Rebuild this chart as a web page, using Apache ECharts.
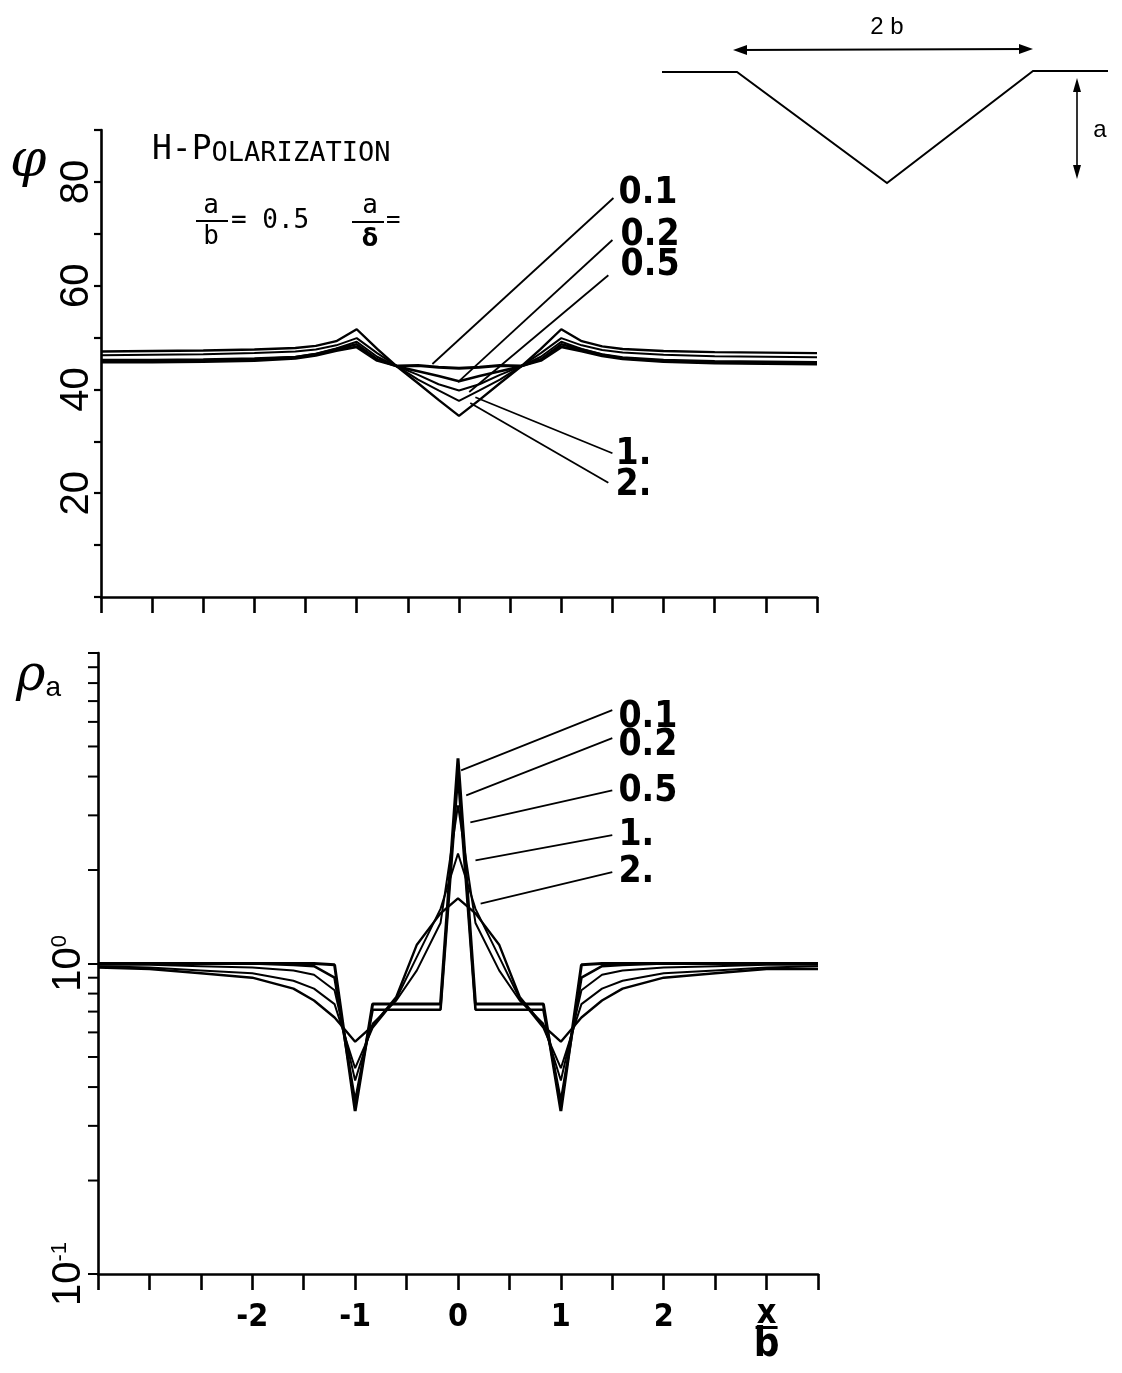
<!DOCTYPE html>
<html><head><meta charset="utf-8">
<script src="https://cdn.jsdelivr.net/npm/echarts@6/dist/echarts.min.js"></script>
<style>html,body{margin:0;padding:0;background:#fff}#c{width:1122px;height:1373px}</style>
</head><body><div id="c"></div><script>
// ---------- data ----------
const xPhi = [-3.5,-3,-2.5,-2,-1.6,-1.4,-1.2,-1,-0.8,-0.6,-0.4,-0.2,0,0.2,0.4,0.6,0.8,1,1.2,1.4,1.6,2,2.5,3,3.5];
const phi01 = [45.3,45.3,45.4,45.6,46.0,46.6,47.5,48.2,45.6,44.5,44.6,44.3,44.1,44.3,44.6,44.5,45.6,48.2,47.4,46.5,45.9,45.4,45.1,45.0,44.9];
const phi02 = [45.5,45.5,45.6,45.8,46.2,46.8,47.8,48.7,45.8,44.4,43.5,42.6,41.6,42.6,43.5,44.4,45.8,48.7,47.7,46.7,46.0,45.5,45.2,45.1,45.0];
const phi05 = [45.7,45.7,45.8,46.0,46.3,46.9,47.9,49.2,46.3,44.4,42.8,41.0,39.8,41.0,42.8,44.4,46.3,49.2,47.8,46.8,46.2,45.7,45.5,45.4,45.3];
const phi1  = [46.6,46.7,46.8,47.0,47.3,47.7,48.5,49.9,47.0,44.4,41.9,39.8,37.8,39.8,41.9,44.4,47.0,49.9,48.5,47.6,47.1,46.7,46.4,46.3,46.2];
const phi2  = [47.3,47.4,47.5,47.7,48.0,48.4,49.3,51.6,47.8,44.3,41.2,38.0,34.9,38.0,41.2,44.3,47.8,51.6,49.3,48.3,47.8,47.4,47.2,47.1,47.0];

const xRho = [-3.5,-3,-2.5,-2,-1.6,-1.4,-1.2,-1,-0.83,-0.6,-0.4,-0.17,0,0.17,0.4,0.6,0.83,1,1.2,1.4,1.6,2,2.5,3,3.5];
const rho01 = [1.00,1.00,1.00,1.00,1.00,1.00,0.99,0.335,0.74,0.74,0.74,0.74,4.58,0.74,0.74,0.74,0.74,0.335,0.99,1.00,1.00,1.00,1.00,1.00,1.00];
const rho02 = [1.00,1.00,1.00,1.00,0.99,0.98,0.90,0.36,0.71,0.71,0.71,0.71,4.04,0.71,0.71,0.71,0.71,0.36,0.90,0.98,0.99,1.00,1.00,1.00,1.00];
const rho05 = [0.99,0.99,0.98,0.97,0.95,0.92,0.82,0.42,0.64,0.76,0.95,1.35,3.23,1.35,0.95,0.76,0.64,0.42,0.82,0.92,0.95,0.97,0.98,0.99,0.99];
const rho1  = [0.98,0.97,0.95,0.93,0.88,0.83,0.74,0.46,0.62,0.77,1.05,1.50,2.26,1.50,1.05,0.77,0.62,0.46,0.74,0.83,0.88,0.93,0.95,0.97,0.98];
const rho2  = [0.97,0.96,0.93,0.90,0.83,0.76,0.67,0.56,0.63,0.78,1.15,1.45,1.62,1.45,1.15,0.78,0.63,0.56,0.67,0.76,0.83,0.90,0.93,0.96,0.96];

const curveNames = ['0.1','0.2','0.5','1.','2.'];
// pointer lines [start, end] in data units
const phiPointers = [[[-0.26,44.9],[1.51,76.9]],[[-0.01,41.4],[1.50,68.8]],[[0.10,39.5],[1.46,62.0]],[[0.16,38.5],[1.50,27.7]],[[0.11,37.4],[1.46,22.0]]];
const phiLabelPos = [[1.56,77.8],[1.58,69.6],[1.58,64.0],[1.53,27.4],[1.53,21.6]];
const rhoPointers = [[[0.03,4.19],[1.50,6.55]],[[0.08,3.48],[1.50,5.32]],[[0.12,2.85],[1.50,3.61]],[[0.17,2.15],[1.50,2.59]],[[0.22,1.56],[1.50,1.97]]];
const rhoLabelPos = [[1.56,6.2],[1.56,5.05],[1.56,3.59],[1.56,2.59],[1.56,1.97]];

const phiTickLabels = [20,40,60,80];
const xTickLabels = [-2,-1,0,1,2];
const rhoMinorTicks = [0.2,0.3,0.4,0.5,0.6,0.7,0.8,0.9,2,3,4,5,6,7,8,9];

// ---------- styling ----------
const BLK = '#000';
const COND = "'DejaVu Sans Condensed','Liberation Sans Narrow','Roboto Condensed','DejaVu Sans',sans-serif";
const MONO = "'DejaVu Sans Mono','Liberation Mono',monospace";
const curveWidths = [3,2.6,2,2,2.4];

function zip(xs, ys){ return xs.map((x,i)=>[x, ys[i]]); }

const series = [];
[phi01,phi02,phi05,phi1,phi2].forEach((ys,i)=>{
  series.push({type:'line', name:'phi '+curveNames[i], xAxisIndex:0, yAxisIndex:0, data:zip(xPhi,ys),
    symbol:'none', lineStyle:{color:BLK,width:curveWidths[i]}, z:3, animation:false});
});
[rho01,rho02,rho05,rho1,rho2].forEach((ys,i)=>{
  series.push({type:'line', name:'rho '+curveNames[i], xAxisIndex:1, yAxisIndex:1, data:zip(xRho,ys),
    symbol:'none', lineStyle:{color:BLK,width:curveWidths[i]}, z:3, animation:false});
});
phiPointers.forEach((p)=>{
  series.push({type:'line', xAxisIndex:0, yAxisIndex:0, data:p, symbol:'none', lineStyle:{color:BLK,width:1.8}, animation:false});
});
rhoPointers.forEach((p)=>{
  series.push({type:'line', xAxisIndex:1, yAxisIndex:1, data:p, symbol:'none', lineStyle:{color:BLK,width:1.8}, animation:false});
});
const labelStyle = {show:true, position:'right', distance:0, formatter:(p)=>p.name, color:BLK, opacity:1,
  fontFamily:COND, fontSize:37, fontWeight:'bold'};
series.push({type:'scatter', xAxisIndex:0, yAxisIndex:0, symbolSize:0, silent:true, animation:false,
  itemStyle:{opacity:1, color:BLK},
  data: phiLabelPos.map((v,i)=>({name:curveNames[i], value:v})), label:labelStyle});
series.push({type:'scatter', xAxisIndex:1, yAxisIndex:1, symbolSize:0, silent:true, animation:false,
  itemStyle:{opacity:1, color:BLK},
  data: rhoLabelPos.map((v,i)=>({name:curveNames[i], value:v})), label:labelStyle});
// minor log ticks on the rho axis
series.push({type:'custom', xAxisIndex:1, yAxisIndex:1, silent:true, animation:false,
  data: rhoMinorTicks.map(v=>[-3.5, v]),
  renderItem:(params, api)=>{
    const p = api.coord([api.value(0), api.value(1)]);
    return {type:'line', shape:{x1:p[0]-10, y1:p[1], x2:p[0], y2:p[1]}, style:{stroke:BLK, lineWidth:2}};
  }});

const axisLineStyle = {show:true, onZero:false, lineStyle:{color:BLK, width:2.6}};
const option = {
  backgroundColor:'#fff',
  animation:false,
  grid:[
    {left:101, top:130, width:716, height:467},
    {left:98, top:653, width:720, height:621}
  ],
  xAxis:[
    {type:'value', gridIndex:0, min:-3.5, max:3.5, interval:0.5, axisLine:axisLineStyle,
     axisTick:{show:true, length:16, lineStyle:{color:BLK,width:2.6}}, axisLabel:{show:false}, splitLine:{show:false}},
    {type:'value', gridIndex:1, min:-3.5, max:3.5, interval:0.5, axisLine:axisLineStyle,
     axisTick:{show:true, length:16, lineStyle:{color:BLK,width:2.6}},
     axisLabel:{show:true, margin:28, color:BLK, fontFamily:COND, fontSize:32, fontWeight:'bold',
       formatter:(v)=> xTickLabels.includes(v) ? String(v) : (v===3 ? '{x|x}\n{bar|}\n{b|b}' : ''),
       rich:{x:{fontFamily:COND,fontSize:34,fontWeight:'bold',lineHeight:24,color:BLK}, bar:{width:22,height:3,backgroundColor:BLK}, b:{fontFamily:COND,fontSize:40,lineHeight:34,color:BLK}}},
     splitLine:{show:false}}
  ],
  yAxis:[
    {type:'value', gridIndex:0, min:0, max:90, interval:10, axisLine:axisLineStyle,
     axisTick:{show:true, length:7, lineStyle:{color:BLK,width:2.2}},
     axisLabel:{show:true, rotate:90, margin:4, color:BLK, fontFamily:"'Liberation Sans',Arial,sans-serif", fontSize:40,
       formatter:(v)=> phiTickLabels.includes(v) ? String(v) : ''},
     splitLine:{show:false}},
    {type:'log', logBase:10, gridIndex:1, min:0.1, max:10, axisLine:axisLineStyle,
     axisTick:{show:true, length:10, lineStyle:{color:BLK,width:2}},
     axisLabel:{show:true, rotate:90, margin:9, color:BLK, fontFamily:"'Liberation Sans',Arial,sans-serif", fontSize:40,
       formatter:(v)=> Math.abs(v-1)<1e-9 ? '{m|10}{s|0}' : (Math.abs(v-0.1)<1e-9 ? '{m|10}{s|-1}' : ''),
       rich:{m:{fontFamily:"'Liberation Sans',Arial,sans-serif",fontSize:40,lineHeight:40,color:BLK,verticalAlign:'bottom'},
             s:{fontFamily:"'Liberation Sans',Arial,sans-serif",fontSize:22,lineHeight:40,color:BLK,verticalAlign:'top'}}},
     splitLine:{show:false}, minorTick:{show:false}}
  ],
  series: series,
  graphic:[
    {type:'text', left:10, top:136, style:{text:'φ', font:"italic 52px 'DejaVu Serif',serif", fill:BLK}},
    {type:'text', left:16, top:652, style:{text:'{r|ρ}{a|a}', rich:{r:{font:"italic 50px 'DejaVu Serif',serif", fill:BLK, verticalAlign:'bottom'}, a:{font:"28px 'Liberation Sans',Arial,sans-serif", fill:BLK, verticalAlign:'bottom'}}}},
    {type:'text', left:152, top:134, style:{text:'{a|H-P}{b|OLARIZATION}', rich:{a:{font:"33px "+MONO, fill:BLK, verticalAlign:'bottom'}, b:{font:"27px "+MONO, fill:BLK, verticalAlign:'bottom'}}}},
    {type:'text', x:211, y:206, style:{text:'a', font:"26px "+MONO, fill:BLK, textAlign:'center', textVerticalAlign:'middle'}},
    {type:'line', shape:{x1:196, y1:221, x2:228, y2:221}, style:{stroke:BLK, lineWidth:2}},
    {type:'text', x:211, y:237, style:{text:'b', font:"26px "+MONO, fill:BLK, textAlign:'center', textVerticalAlign:'middle'}},
    {type:'text', x:231, y:221, style:{text:'= 0.5', font:"26px "+MONO, fill:BLK, textAlign:'left', textVerticalAlign:'middle'}},
    {type:'text', x:370, y:206, style:{text:'a', font:"26px "+MONO, fill:BLK, textAlign:'center', textVerticalAlign:'middle'}},
    {type:'line', shape:{x1:352, y1:222, x2:384, y2:222}, style:{stroke:BLK, lineWidth:2}},
    {type:'text', x:370, y:240, style:{text:'δ', font:"bold 24px 'DejaVu Sans',sans-serif", fill:BLK, textAlign:'center', textVerticalAlign:'middle'}},
    {type:'text', x:386, y:221, style:{text:'=', font:"24px "+MONO, fill:BLK, textAlign:'left', textVerticalAlign:'middle'}},
    {type:'polyline', shape:{points:[[662,72],[737,72],[887,183],[1033,71],[1108,71]]}, style:{stroke:BLK, lineWidth:2, fill:null}},
    {type:'line', shape:{x1:738, y1:50, x2:1028, y2:49}, style:{stroke:BLK, lineWidth:2}},
    {type:'polygon', shape:{points:[[733,50],[747,45],[747,55]]}, style:{fill:BLK}},
    {type:'polygon', shape:{points:[[1033,49],[1019,44],[1019,54]]}, style:{fill:BLK}},
    {type:'text', x:887, y:27, style:{text:'2 b', font:"24px 'Liberation Sans',Arial,sans-serif", fill:BLK, textAlign:'center', textVerticalAlign:'middle'}},
    {type:'line', shape:{x1:1077, y1:82, x2:1077, y2:175}, style:{stroke:BLK, lineWidth:1.6}},
    {type:'polygon', shape:{points:[[1077,78],[1073,92],[1081,92]]}, style:{fill:BLK}},
    {type:'polygon', shape:{points:[[1077,179],[1073,165],[1081,165]]}, style:{fill:BLK}},
    {type:'text', x:1100, y:130, style:{text:'a', font:"24px 'Liberation Sans',Arial,sans-serif", fill:BLK, textAlign:'center', textVerticalAlign:'middle'}}
  ]
};
const chart = echarts.init(document.getElementById('c'), null, {renderer:'canvas'});
chart.setOption(option);
</script></body></html>
